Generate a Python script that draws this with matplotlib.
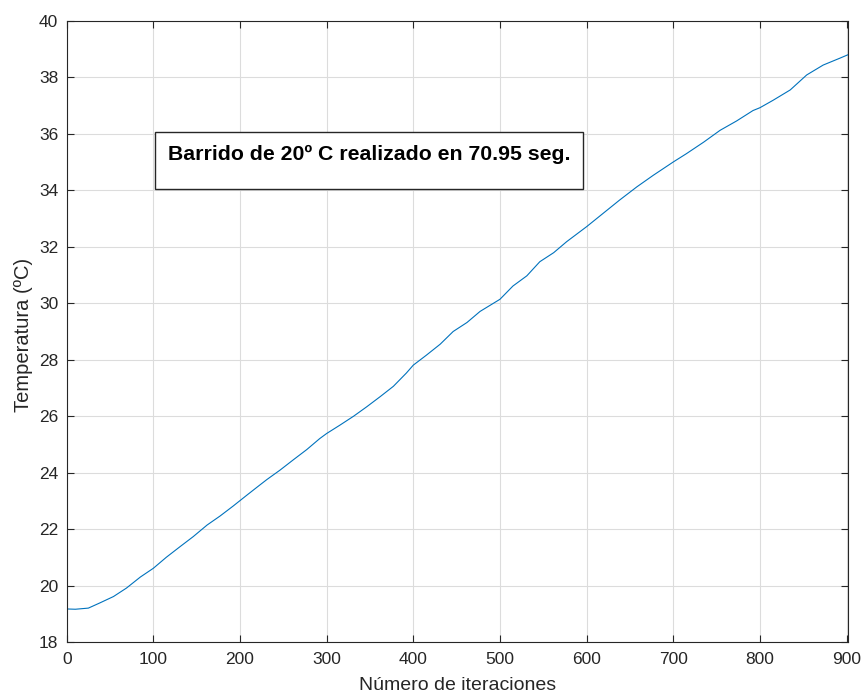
import matplotlib
matplotlib.use("Agg")
import matplotlib.pyplot as plt
from matplotlib.patches import Rectangle

plt.rcParams["font.family"] = ["Liberation Sans", "DejaVu Sans"]

# temperature readings along the sweep (iteration, degC)
iteraciones = [0, 10, 25, 38, 54, 69, 85, 100, 115, 131, 146, 162, 177, 192,
               208, 223, 231, 246, 262, 277, 292, 300, 315, 331, 346, 362,
               377, 392, 400, 415, 431, 446, 462, 477, 500, 515, 531, 546,
               562, 577, 600, 619, 638, 658, 677, 700, 715, 735, 754, 773,
               792, 800, 815, 835, 854, 873, 892, 902]
temperatura = [19.18, 19.17, 19.21, 19.39, 19.62, 19.92, 20.31, 20.62, 21.01,
               21.39, 21.74, 22.15, 22.47, 22.82, 23.21, 23.57, 23.76, 24.09,
               24.47, 24.82, 25.21, 25.39, 25.68, 26.00, 26.33, 26.70, 27.06,
               27.53, 27.81, 28.16, 28.55, 29.00, 29.32, 29.71, 30.14, 30.61,
               30.97, 31.47, 31.79, 32.18, 32.71, 33.18, 33.65, 34.12, 34.53,
               35.00, 35.29, 35.70, 36.12, 36.45, 36.82, 36.92, 37.18, 37.55,
               38.08, 38.43, 38.67, 38.80]
xticks = list(range(0, 901, 100))
yticks = list(range(18, 41, 2))
nota = "Barrido de 20º C realizado en 70.95 seg."

W, H = 864, 697
x0, x1, y0, y1 = 66.7, 848.3, 20.7, 642.3
fig = plt.figure(figsize=(W / 100, H / 100), dpi=100)
ax = fig.add_axes([x0 / W, 1 - y1 / H, (x1 - x0) / W, (y1 - y0) / H])

ax.plot(iteraciones, temperatura, color="#0072BD", lw=0.8)

ax.set_xlim(0, 902)
ax.set_ylim(18, 40)
ax.set_xticks(xticks)
ax.set_yticks(yticks)
ax.grid(True, color="#dcdcdc", lw=0.8)
ax.set_axisbelow(True)
ax.tick_params(direction="in", length=5, width=0.8, color="#262626",
               labelcolor="#262626", labelsize=12.5, top=True, right=True)
ax.tick_params(axis="x", pad=7)
ax.tick_params(axis="y", pad=6)
for s in ax.spines.values():
    s.set_color("#262626")
    s.set_linewidth(0.8)

ax.set_xlabel("Número de iteraciones", fontsize=14, color="#262626")
ax.set_ylabel("Temperatura (ºC)", fontsize=14.5, color="#262626")
ax.xaxis.set_label_coords(0.5, (y1 - 676.5) / (y1 - y0))
ax.yaxis.set_label_coords((33 - x0) / (x1 - x0), 0.495)

# annotation box with the sweep summary
bx0, bx1, by0, by1 = 155.3, 583.3, 132.3, 189.3
fig.patches.append(Rectangle((bx0 / W, 1 - by1 / H), (bx1 - bx0) / W, (by1 - by0) / H,
                             transform=fig.transFigure, facecolor="white",
                             edgecolor="#262626", lw=1.0, zorder=5))
fig.text((bx0 + bx1) / 2 / W, 1 - 160.5 / H, nota, ha="center", va="baseline",
         fontsize=15.3, fontweight="bold", color="black", zorder=6)

fig.savefig("out.png", dpi=100)
